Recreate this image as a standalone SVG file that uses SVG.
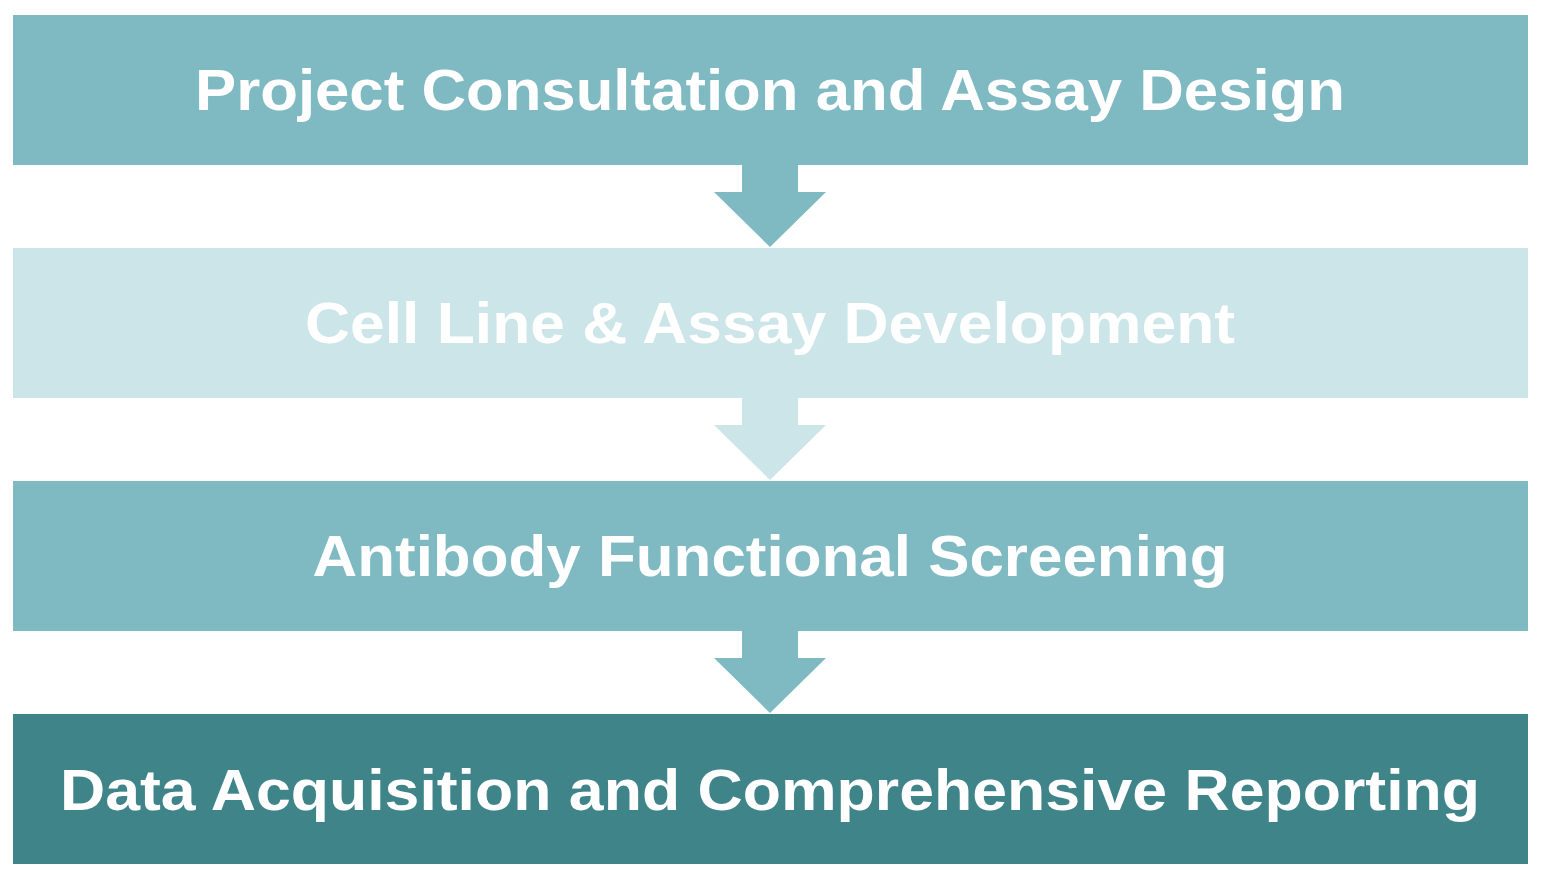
<svg xmlns="http://www.w3.org/2000/svg" width="1543" height="878" viewBox="0 0 1543 878">
<style>
.t{font-family:"Liberation Sans",Arial,sans-serif;font-weight:bold;font-size:58px;fill:#fff;text-anchor:middle}
.m{fill:#7fbac3}.l{fill:#cce5e8}.d{fill:#3f8489}
</style>
<rect width="1543" height="878" fill="#fff"/>
<g id="connectors">
<polygon class="m" points="742,165 798,165 798,192 826,192 770,247 714,192 742,192"/>
<polygon class="l" points="742,398 798,398 798,425 826,425 770,480 714,425 742,425"/>
<polygon class="m" points="742,631 798,631 798,658 826,658 770,713 714,658 742,658"/>
</g>
<g id="n1"><rect class="m" x="13" y="15" width="1515" height="150"/><text class="t" x="770" y="110" textLength="1150" lengthAdjust="spacingAndGlyphs">Project Consultation and Assay Design</text></g>
<g id="n2"><rect class="l" x="13" y="248" width="1515" height="150"/><text class="t" x="770" y="343" textLength="930" lengthAdjust="spacingAndGlyphs">Cell Line &amp; Assay Development</text></g>
<g id="n3"><rect class="m" x="13" y="481" width="1515" height="150"/><text class="t" x="770" y="576" textLength="915" lengthAdjust="spacingAndGlyphs">Antibody Functional Screening</text></g>
<g id="n4"><rect class="d" x="13" y="714" width="1515" height="150"/><text class="t" x="770" y="810" textLength="1420" lengthAdjust="spacingAndGlyphs">Data Acquisition and Comprehensive Reporting</text></g>
</svg>
